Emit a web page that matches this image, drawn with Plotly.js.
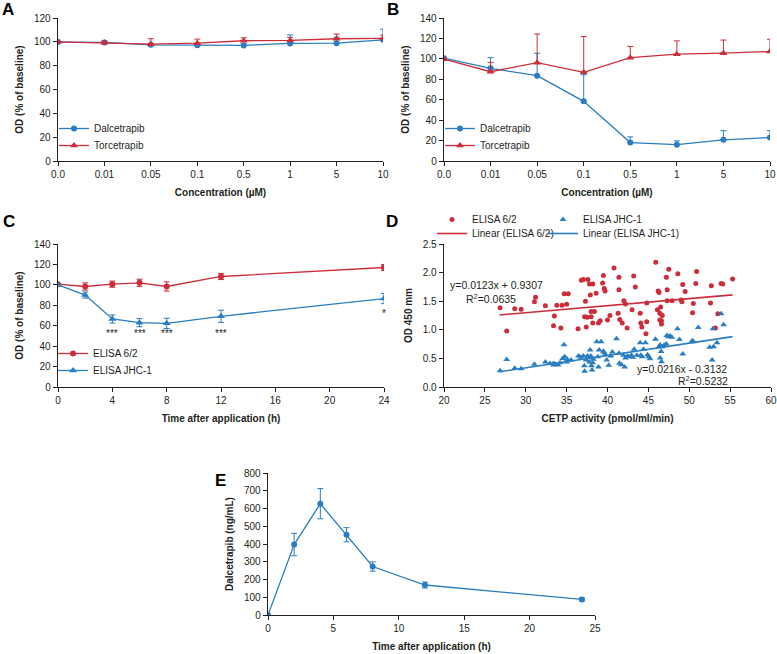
<!DOCTYPE html>
<html>
<head>
<meta charset="utf-8">
<script src="https://cdn.plot.ly/plotly-3.0.1.min.js"></script>
<style>html,body{margin:0;padding:0;background:#fff}#chart{width:777px;height:654px}</style>
</head>
<body>
<div id="chart"></div>
<script>
// ---------- DATA ----------
var concLabels = ["0.0", "0.01", "0.05", "0.1", "0.5", "1", "5", "10"];

// Panel A
var aDal = [99.8, 99.5, 97.5, 97.2, 97.0, 98.7, 98.9, 101.7];
var aDalErr = [0, 1.5, 1.0, 1.0, 1.5, 7.0, 5.0, 9.0];
var aTor = [100.0, 99.2, 98.0, 98.9, 100.9, 101.2, 102.6, 102.9];
var aTorErr = [0, 1.0, 4.6, 3.4, 2.5, 2.5, 3.9, 2.8];

// Panel B
var bDal = [100.7, 90.7, 83.5, 58.4, 18.0, 16.0, 20.7, 23.0];
var bDalErr = [0, 10.5, 22.0, 26.0, 5.6, 3.7, 9.0, 6.8];
var bTor = [99.7, 87.4, 96.3, 86.8, 101.2, 104.6, 105.6, 107.2];
var bTorErr = [0, 9.2, 28.0, 35.0, 11.0, 13.0, 12.8, 12.0];

// Panel C
var cTime = [0, 2, 4, 6, 8, 12, 24];
var c62 = [100.7, 98.4, 100.7, 102.0, 98.4, 108.2, 117.0];
var c62Err = [0, 3.5, 3.0, 3.5, 4.5, 3.0, 3.0];
var cJHC = [100.0, 90.0, 66.6, 63.0, 62.3, 69.2, 86.6];
var cJHCErr = [0, 3.0, 4.0, 4.0, 5.0, 6.0, 5.0];
var cSigX = [4, 6, 8, 12, 24];
var cSigY = [52, 52, 52, 52, 71.5];
var cSigText = ["***", "***", "***", "***", "*"];

// Panel D
var dRedX = [26.86, 27.67, 28.65, 29.43, 31.06, 31.2, 32.4, 33.5, 33.4,
  33.8, 34.44, 35.0, 34.7, 35.2, 34.3, 36.4, 36.8, 37.05, 37.6, 37.8, 38.2, 37.9, 37.3, 38.6,
  37.2, 37.5, 38.0, 38.4, 38.0, 37.4, 38.2, 39.1, 38.9, 39.4, 39.5, 39.6, 39.7, 40.0, 40.3,
  40.8, 41.3, 41.4, 41.4, 41.5, 41.8, 42.0, 42.2, 43.0, 43.2, 43.4, 42.4, 44.0, 44.07, 44.2,
  44.8, 44.8, 44.7, 45.9, 46.2, 46.3, 46.1, 46.4, 46.4, 46.6,
  47.5, 47.2, 47.3, 46.5, 46.7, 46.6, 47.3, 47.9, 48.6, 49.0, 49.2, 49.5, 50.9, 50.8, 50.4,
  50.5, 52.6, 52.7, 53.5, 53.2, 53.9, 54.1, 55.3, 49.1];
var dRedY = [1.387, 0.98, 1.37, 1.36, 1.49, 1.57, 1.42, 1.24, 1.07,
  1.43, 1.43, 1.445, 1.63, 1.63, 1.03, 1.02, 1.865, 1.88, 1.88, 1.80, 1.80, 1.61, 1.50, 1.64,
  1.23, 1.22, 1.32, 1.32, 1.23, 1.05, 1.12, 1.16, 1.12, 1.82, 1.95, 1.72, 1.68, 1.17, 1.25,
  2.08, 1.29, 1.70, 1.92, 1.18, 1.12, 1.51, 1.45, 1.35, 1.94, 1.75, 1.03, 1.29, 1.12, 1.05,
  1.47, 1.14, 0.93, 2.18, 1.68, 1.65, 1.35, 1.29, 1.17, 1.10,
  2.06, 1.92, 1.70, 1.40, 1.25, 1.16, 1.51, 1.51, 1.98, 1.52, 1.79, 1.67, 2.02, 1.81, 1.30,
  1.46, 1.47, 1.77, 1.28, 1.03, 1.81, 1.80, 1.89, 1.49];
var dBlueX = [26.86, 27.67, 28.65, 29.43, 31.06, 32.4, 33.4,
  34.68, 32.97, 33.38, 33.58, 33.95, 34.19, 34.52, 34.77, 35.09, 35.01, 35.54, 36.44, 36.73,
  37.05, 37.17, 37.38, 37.54, 37.7, 37.79, 37.87, 37.95, 38.19, 38.03, 38.28, 38.11, 38.68,
  38.81, 38.97, 39.21, 39.5, 39.6, 39.75, 39.9, 40.15, 40.4, 40.6, 41.1, 41.4, 41.46, 41.7,
  41.95, 42.2, 42.44, 42.77, 42.93, 43.1, 43.26, 43.6, 44.0, 44.07, 44.24, 44.4, 44.64, 44.9,
  45.05, 45.2, 45.87, 46.3, 46.44, 46.7, 46.93,
  37.2, 38.9, 42.1, 46.6,
  46.44, 46.56, 47.2, 47.26, 47.46, 47.66, 47.87, 48.56, 48.8, 49.2, 50.36, 50.52, 51.1,
  52.5, 52.8, 52.9, 52.97, 53.4, 53.9, 54.2];
var dBlueY = [0.286, 0.48, 0.326, 0.32, 0.396, 0.437, 0.385,
  0.74, 0.41, 0.41, 0.40, 0.385, 0.425, 0.50, 0.53, 0.48, 0.437, 0.47, 0.54, 0.52,
  0.54, 0.37, 0.47, 0.54, 0.51, 0.437, 0.647, 0.54, 0.425, 0.37, 0.484, 0.297, 0.79,
  0.53, 0.647, 0.79, 0.624, 0.60, 0.565, 0.47, 0.38, 0.54, 0.61, 0.845, 0.59, 0.414, 0.39,
  0.553, 0.507, 0.54, 0.53, 0.553, 0.52, 0.66, 0.553, 0.775, 0.553, 0.53, 0.66, 0.775, 0.565,
  0.53, 0.495, 0.833, 0.705, 0.507, 0.705, 0.73,
  0.275, 0.35, 0.35, 0.44,
  0.734, 0.62, 0.75, 0.90, 0.88, 0.89, 0.87, 1.02, 0.83, 0.577, 0.81, 0.79, 1.04,
  0.693, 0.47, 1.02, 0.705, 0.775, 1.28, 1.09];
var dRedFitX = [26.8, 55.3];
var dRedFitY = [1.260, 1.611];
var dBlueFitX = [26.8, 55.3];
var dBlueFitY = [0.266, 0.881];

// Panel E
var eTime = [0, 2, 4, 6, 8, 12, 24];
var eConc = [0, 397, 627, 452, 273, 169, 88];
var eErr = [0, 63, 85, 40, 26, 17, 8];

// ---------- STYLE ----------
var W = 777, H = 654;
var BLUE = '#2a7dc0', RED = '#cc2d3b', AX = '#231f20';
var FONT = 'Liberation Sans Narrow, Arial Narrow, Liberation Sans, Arial, sans-serif';
var BOLD = 'Liberation Sans, Arial, sans-serif';
function px(x) { return x / W; }
function py(y) { return 1 - y / H; }
function zeros(a) { return a.map(function () { return 0; }); }

function axis(d0, d1, vertical, opts) {
  var a = {
    domain: vertical ? [py(d1), py(d0)] : [px(d0), px(d1)],
    showline: true, linecolor: AX, linewidth: 1.3,
    ticks: 'outside', ticklen: 4, tickwidth: 1, tickcolor: AX,
    showgrid: false, zeroline: false, automargin: false,
    tickfont: {family: FONT, size: 10, color: AX},
    title: {text: opts.title, font: {family: BOLD, size: 10, color: AX, weight: 'bold'}, standoff: opts.standoff}
  };
  for (var k in opts) if (k !== 'title' && k !== 'standoff') a[k] = opts[k];
  return a;
}

function errData(arr, plusOnly, color) {
  var e = {type: 'data', array: arr, color: color, thickness: 1, width: 3, visible: true};
  if (plusOnly) { e.symmetric = false; e.arrayminus = zeros(arr); }
  return e;
}

var traces = [];
// A
traces.push({x: concLabels, y: aDal, xaxis: 'x', yaxis: 'y', name: 'Dalcetrapib', legend: 'legend',
  mode: 'lines+markers', line: {color: BLUE, width: 1.3}, marker: {color: BLUE, size: 6, symbol: 'circle'},
  error_y: errData(aDalErr, true, BLUE)});
traces.push({x: concLabels, y: aTor, xaxis: 'x', yaxis: 'y', name: 'Torcetrapib', legend: 'legend2',
  mode: 'lines+markers', line: {color: RED, width: 1.3}, marker: {color: RED, size: 7, symbol: 'triangle-up'},
  error_y: errData(aTorErr, true, RED)});
// B
traces.push({x: concLabels, y: bDal, xaxis: 'x2', yaxis: 'y2', name: 'Dalcetrapib', legend: 'legend3',
  mode: 'lines+markers', line: {color: BLUE, width: 1.3}, marker: {color: BLUE, size: 6, symbol: 'circle'},
  error_y: errData(bDalErr, true, BLUE)});
traces.push({x: concLabels, y: bTor, xaxis: 'x2', yaxis: 'y2', name: 'Torcetrapib', legend: 'legend4',
  mode: 'lines+markers', line: {color: RED, width: 1.3}, marker: {color: RED, size: 7, symbol: 'triangle-up'},
  error_y: errData(bTorErr, true, RED)});
// C
traces.push({x: cTime, y: c62, xaxis: 'x3', yaxis: 'y3', name: 'ELISA 6/2', legend: 'legend5',
  mode: 'lines+markers', line: {color: RED, width: 1.3}, marker: {color: RED, size: 6, symbol: 'circle'},
  error_y: errData(c62Err, false, RED)});
traces.push({x: cTime, y: cJHC, xaxis: 'x3', yaxis: 'y3', name: 'ELISA JHC-1', legend: 'legend6',
  mode: 'lines+markers', line: {color: BLUE, width: 1.3}, marker: {color: BLUE, size: 7, symbol: 'triangle-up'},
  error_y: errData(cJHCErr, false, BLUE)});
// D
traces.push({x: dRedX, y: dRedY, xaxis: 'x4', yaxis: 'y4', name: 'ELISA 6/2', legend: 'legend7',
  mode: 'markers', marker: {color: RED, size: 5, symbol: 'circle'}});
traces.push({x: dBlueX, y: dBlueY, xaxis: 'x4', yaxis: 'y4', name: 'ELISA JHC-1', legend: 'legend7', legendwidth: 100,
  mode: 'markers', marker: {color: BLUE, size: 6, symbol: 'triangle-up'}});
traces.push({x: dRedFitX, y: dRedFitY, xaxis: 'x4', yaxis: 'y4', name: 'Linear (ELISA 6/2)', legend: 'legend8',
  mode: 'lines', line: {color: RED, width: 1.6}});
traces.push({x: dBlueFitX, y: dBlueFitY, xaxis: 'x4', yaxis: 'y4', name: 'Linear (ELISA JHC-1)', legend: 'legend8', legendwidth: 110,
  mode: 'lines', line: {color: BLUE, width: 1.6}});
// E
traces.push({x: eTime, y: eConc, xaxis: 'x5', yaxis: 'y5', name: 'Dalcetrapib', showlegend: false,
  mode: 'lines+markers', line: {color: BLUE, width: 1.3}, marker: {color: BLUE, size: 6, symbol: 'circle'},
  error_y: errData(eErr, false, BLUE)});

function legendAt(xLeft, yTop, horiz) {
  var l = {x: px(xLeft), y: py(yTop), xanchor: 'left', yanchor: 'top', bgcolor: 'rgba(0,0,0,0)',
    borderwidth: 0, font: {family: FONT, size: 10, color: AX}, itemwidth: 30, tracegroupgap: 0,
    itemclick: false, itemdoubleclick: false};
  if (horiz) { l.orientation = 'h'; l.entrywidth = 66; l.entrywidthmode = 'pixels'; }
  return l;
}

var annFont = {family: FONT, size: 10.5, color: AX};
var letterFont = {family: BOLD, size: 17, color: '#000', weight: 'bold'};
function letter(t, x, y) {
  return {text: t, xref: 'paper', yref: 'paper', x: px(x), y: py(y), xanchor: 'center', yanchor: 'middle',
    showarrow: false, font: letterFont};
}
var annotations = [letter('A', 8, 9), letter('B', 393, 9), letter('C', 9, 221), letter('D', 392, 221), letter('E', 220, 480)];
for (var i = 0; i < cSigX.length; i++) {
  annotations.push({text: cSigText[i], xref: 'x3', yref: 'y3', x: cSigX[i], y: cSigY[i], showarrow: false,
    font: {family: FONT, size: 10, color: AX}, xanchor: 'center', yanchor: 'middle'});
}
annotations.push({text: 'y=0.0123x + 0.9307', xref: 'paper', yref: 'paper', x: px(496), y: py(285), showarrow: false, font: annFont});
annotations.push({text: 'R<sup>2</sup>=0.0635', xref: 'paper', yref: 'paper', x: px(491), y: py(298), showarrow: false, font: annFont});
annotations.push({text: 'y=0.0216x - 0.3132', xref: 'paper', yref: 'paper', x: px(729), y: py(369), showarrow: false, font: annFont});
annotations.push({text: 'R<sup>2</sup>=0.5232', xref: 'paper', yref: 'paper', x: px(730), y: py(381), showarrow: false, font: annFont});

var layout = {
  width: W, height: H, margin: {l: 0, r: 0, t: 0, b: 0},
  paper_bgcolor: '#fff', plot_bgcolor: '#fff', showlegend: true,
  font: {family: FONT, size: 10, color: AX},
  xaxis: axis(58, 383, false, {title: 'Concentration (µM)', standoff: 9, type: 'category', range: [0, 7], anchor: 'y', categoryorder: 'array', categoryarray: concLabels}),
  yaxis: axis(18, 161, true, {title: 'OD (% of baseline)', standoff: 8, range: [0, 120], dtick: 20, anchor: 'x'}),
  xaxis2: axis(444, 770, false, {title: 'Concentration (µM)', standoff: 9, type: 'category', range: [0, 7], anchor: 'y2', categoryorder: 'array', categoryarray: concLabels}),
  yaxis2: axis(18, 161, true, {title: 'OD (% of baseline)', standoff: 8, range: [0, 140], dtick: 20, anchor: 'x2'}),
  xaxis3: axis(58, 384, false, {title: 'Time after application (h)', standoff: 9, range: [0, 24], dtick: 4, anchor: 'y3'}),
  yaxis3: axis(244, 387, true, {title: 'OD (% of baseline)', standoff: 8, range: [0, 140], dtick: 20, anchor: 'x3'}),
  xaxis4: axis(444, 771, false, {title: 'CETP activity (pmol/ml/min)', standoff: 9, range: [20, 60], dtick: 5, anchor: 'y4'}),
  yaxis4: axis(244, 387, true, {title: 'OD 450 mm', standoff: 8, range: [0, 2.5], dtick: 0.5, tickformat: '.1f', anchor: 'x4'}),
  xaxis5: axis(268, 595, false, {title: 'Time after application (h)', standoff: 9, range: [0, 25], dtick: 5, anchor: 'y5'}),
  yaxis5: axis(473, 615, true, {title: 'Dalcetrapib (ng/mL)', standoff: 8, range: [0, 800], dtick: 100, anchor: 'x5'}),
  legend: legendAt(54, 114),
  legend2: legendAt(54, 131),
  legend3: legendAt(440, 114),
  legend4: legendAt(440, 131),
  legend5: legendAt(53, 339),
  legend6: legendAt(53, 356),
  legend7: legendAt(432, 205, true),
  legend8: legendAt(432, 219, true),
  annotations: annotations
};

Plotly.newPlot('chart', traces, layout, {staticPlot: true, displayModeBar: false});
</script>
</body>
</html>
